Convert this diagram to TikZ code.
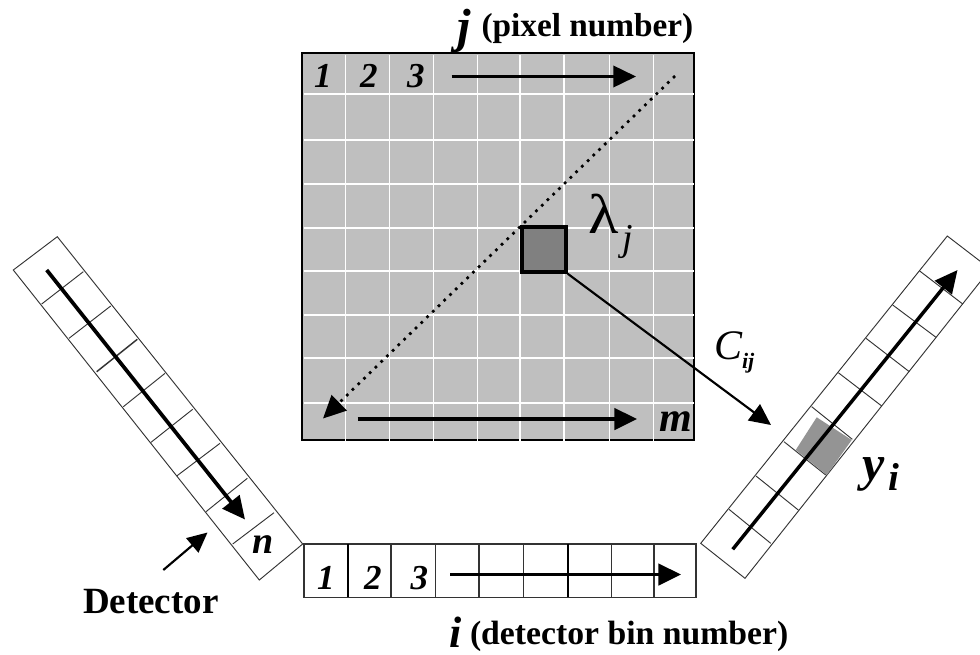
\documentclass[tikz,border=0pt]{standalone}
\usepackage{fontspec}
\setmainfont{Liberation Serif}
\usetikzlibrary{arrows.meta}
\newcommand{\szpx}[1]{\fontsize{\dimexpr #1pt*3/4\relax}{\dimexpr #1pt\relax}\selectfont}
\tikzset{
  x=0.75pt,y=-0.75pt,
  lab/.style={inner sep=0pt,outer sep=0pt,anchor=base west,text=black},
  bi/.style={lab,font=\szpx{#1}\bfseries\itshape},
  bo/.style={lab,font=\szpx{#1}\bfseries},
  it/.style={lab,font=\szpx{#1}\itshape},
  up/.style={lab,font=\szpx{#1}},
  bigarrow/.style={line width=2.8pt,-{Triangle[length=17pt,width=16pt]}},
  thinarrow/.style={line width=1.6pt,-{Triangle[length=16pt,width=15pt]}},
  celline/.style={line width=0.7pt,draw=black!80},
  detbox/.style={line width=0.7pt,draw=black!80,fill=white},
  gridline/.style={line width=1pt,draw=white},
}
\definecolor{panel}{gray}{0.75}
\definecolor{pix}{gray}{0.5}
\definecolor{bin}{gray}{0.58}
\begin{document}
\begin{tikzpicture}
\useasboundingbox (0,0) rectangle (980,654);
% labels behind the frame
\node[bi=48] (jlab) at (457,42) {j};
\node[bo=33.3] (pixlab) at (481.5,36.5) {(pixel number)};
% image panel
\coordinate (pnw) at (302,53);
\coordinate (pse) at (694,440);
\fill[panel] (pnw) rectangle (pse);
\draw[line width=2pt] (pnw) rectangle (pse);
\foreach \gx in {345.7,389.7,433.7,477.3,520,564,609.3,653.7}
  \draw[gridline] (\gx,54.5) -- (\gx,441);
\foreach \gy in {94,140,184,228,271,315,358,403}
  \draw[gridline] (303.5,\gy) -- (694,\gy);
\node[bi=35] (ta) at (314,87) {1};
\node[bi=35] (tb) at (360,87) {2};
\node[bi=35] (tc) at (407,87) {3};
\node[bi=42] (mlab) at (659,431) {m};
% pixel
\node[draw=black,line width=3pt,fill=pix,minimum width=32.6pt,minimum height=33.4pt,inner sep=0pt] (pixel) at (544,249.5) {};
\node[up=56] (lam) at (588,233) {\scalebox{1.12}[1]{λ}};
\node[it=38] (lamj) at (622,250) {j};
% top / bottom arrows
\coordinate (ja) at (451.5,76.5);
\coordinate (jb) at (636,76.5);
\draw[bigarrow,line width=2pt] (ja) -- (jb);
\coordinate (ma) at (357.5,419);
\coordinate (mb) at (637,419);
\draw[bigarrow] (ma) -- (mb);
% diagonal dotted
\coordinate (da) at (675,76);
\coordinate (db) at (323,418.5);
\draw[line width=2pt,dash pattern=on 2pt off 4pt,-{Triangle[length=17pt,width=16pt]}] (da) -- (db);
% left detector
\coordinate (la) at (57.3,236.7);
\coordinate (lb) at (302.7,544);
\coordinate (lc) at (259.3,580);
\coordinate (ld) at (13.3,270);
\draw[detbox] (la) -- (lb) -- (lc) -- (ld) -- cycle;
\draw[celline] (83.3,271.7) -- (41.7,304);
\draw[celline] (110.7,306) -- (69,338.3);
\draw[celline,line width=1.1pt] (137.3,339.3) -- (96.7,371.7);
\draw[celline] (165,373.3) -- (123.3,406.7);
\draw[celline] (192.7,409.3) -- (151,442.3);
\draw[celline] (220,443.3) -- (176.7,476);
\draw[celline] (247.3,478.3) -- (206,511.7);
\draw[celline] (274,512.7) -- (232.7,544);
\coordinate (lsa) at (46.7,270);
\coordinate (lsb) at (245,519.5);
\draw[bigarrow] (lsa) -- (lsb);
\node[bi=38] (nlab) at (252,553) {n};
% detector pointer
\node[bo=37] (detlab) at (83,613) {Detector};
\coordinate (dpa) at (163.3,570);
\coordinate (dpb) at (207.5,532.5);
\draw[thinarrow,-{Triangle[length=15pt,width=14pt]}] (dpa) -- (dpb);
% bottom detector
\coordinate (bnw) at (304,544);
\coordinate (bse) at (696,597.3);
\draw[detbox,line width=0.9pt] (bnw) rectangle (bse);
\foreach \bx in {391,435.3,479,523.3,611.3,654}
  \draw[celline,line width=0.9pt] (\bx,544) -- (\bx,597.3);
\foreach \bx in {348.3,567.7}
  \draw[line width=1.4pt] (\bx,544) -- (\bx,597.3);
\node[bi=35] (ba) at (317,589) {1};
\node[bi=35] (bb) at (364,589) {2};
\node[bi=35] (bc) at (410.5,589) {3};
\coordinate (bsa) at (450,574.5);
\coordinate (bsb) at (681,574.5);
\draw[bigarrow] (bsa) -- (bsb);
\node[bi=44] (ilab) at (449.5,647.5) {i};
\node[bo=33.7] (binlab) at (470,644) {(detector bin number)};
% right detector
\coordinate (ra) at (947.3,236);
\coordinate (rb) at (990.3,269);
\coordinate (rc) at (745,578.3);
\coordinate (rd) at (700.7,543.3);
\begin{scope}
\clip (0,0) rectangle (980,654);
\draw[detbox] (ra) -- (rb) -- (rc) -- (rd) -- cycle;
\end{scope}
\draw[celline] (919.3,270.7) -- (962.7,304);
\draw[celline] (892.7,305) -- (936,337.3);
\draw[celline] (866,338.3) -- (909.3,371.7);
\draw[celline] (838.3,372.7) -- (881.7,406);
\draw[celline] (811.7,406.7) -- (852.3,439.3);
\draw[celline] (784,441.7) -- (825.7,475);
\draw[celline] (756,476) -- (798.3,510);
\draw[celline] (729,509.3) -- (770.7,543.3);
\fill[bin] (816.7,417.3) -- (851.7,440) -- (826.7,475) -- (795.7,450) -- cycle;
\coordinate (rsa) at (732.7,549.3);
\coordinate (rsb) at (957.5,270);
\draw[bigarrow,line width=2.6pt] (rsa) -- (rsb);
% C_ij
\coordinate (cb) at (771,425);
\draw[thinarrow,line width=1.6pt] (pixel.south east) -- (cb);
\node[it=42] (clab) at (714,359) {C};
\node[bi=22] (cij) at (742,368) {ij};
\node[bi=50] (ylab) at (862,480) {y};
\node[bi=39] (yi) at (888,490) {i};
\end{tikzpicture}
\end{document}
